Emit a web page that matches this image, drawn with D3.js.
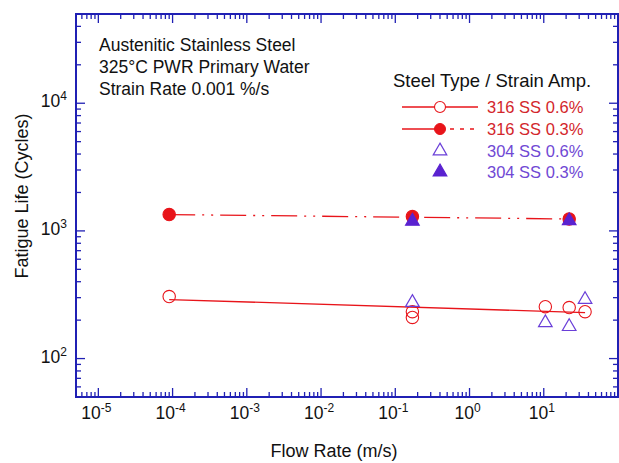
<!DOCTYPE html>
<html><head><meta charset="utf-8">
<script src="https://cdn.jsdelivr.net/npm/d3@7"></script>
<style>body{margin:0;background:#fff} svg{display:block} text{font-family:"Liberation Sans",Arial,Helvetica,sans-serif}</style>
</head><body><svg id="c" width="619" height="463"></svg>
<script>
// ---- data ----
const xTickExponents = [-5, -4, -3, -2, -1, 0, 1];
const yTickExponents = [2, 3, 4];
const annotationLines = ["Austenitic Stainless Steel", "325°C PWR Primary Water", "Strain Rate 0.001 %/s"];
const legendTitle = "Steel Type / Strain Amp.";
const seriesNames = ["316 SS 0.6%", "316 SS 0.3%", "304 SS 0.6%", "304 SS 0.3%"];
const xTitle = "Flow Rate (m/s)";
const yTitle = "Fatigue Life (Cycles)";

const ss316_06_flow = [9e-5, 0.17, 0.17, 10.5, 22, 36];
const ss316_06_life = [306, 233, 210, 255, 251, 233];
const ss316_03_flow = [9e-5, 0.17, 22];
const ss316_03_life = [1343, 1294, 1240];
const ss304_06_flow = [0.17, 10.5, 22, 36];
const ss304_06_life = [275, 191, 178, 290];
const ss304_03_flow = [0.17, 22];
const ss304_03_life = [1190, 1200];
const fit316_06_flow = [9e-5, 36];
const fit316_06_life = [290, 229];
const fit316_03_flow = [9e-5, 22];
const fit316_03_life = [1343, 1240];

// ---- layout ----
const svg = d3.select("#c");
const L = 76, R = 618, T = 14, B = 397;
const x = d3.scaleLog().domain([5e-6, 100]).range([L, R]);
const y = d3.scaleLog().domain([50, 5e4]).range([B, T]);
const axisColor = "#2020b4";
const red = "#e8141a";
const purple = "#6a3fd8";
const purpleFill = "#5a22d0";

// frame
svg.append("rect").attr("x", L).attr("y", T).attr("width", R - L).attr("height", B - T)
  .attr("fill", "none").attr("stroke", axisColor).attr("stroke-width", 2);

// ticks
function logTicks(scale) {
  const [a, b] = scale.domain();
  const out = [];
  for (let e = Math.floor(Math.log10(a)); e <= Math.ceil(Math.log10(b)); e++) {
    for (let m = 1; m <= 9; m++) {
      const v = m * Math.pow(10, e);
      if (v >= a * 0.999 && v <= b * 1.001) out.push({v, major: m === 1});
    }
  }
  return out;
}
const tg = svg.append("g").attr("stroke", axisColor).attr("stroke-width", 1.3);
logTicks(x).forEach(t => {
  const px = x(t.v), len = t.major ? 9 : 5;
  tg.append("line").attr("x1", px).attr("x2", px).attr("y1", B).attr("y2", B - len);
  tg.append("line").attr("x1", px).attr("x2", px).attr("y1", T).attr("y2", T + len);
});
logTicks(y).forEach(t => {
  const py = y(t.v), len = t.major ? 9 : 5;
  tg.append("line").attr("x1", L).attr("x2", L + len).attr("y1", py).attr("y2", py);
  tg.append("line").attr("x1", R).attr("x2", R - len).attr("y1", py).attr("y2", py);
});

// tick labels
xTickExponents.forEach(e => {
  const t = svg.append("text").attr("x", x(Math.pow(10, e)) - 2).attr("y", 419)
    .attr("text-anchor", "middle").attr("font-size", 17.5).attr("fill", "#111");
  t.append("tspan").text("10");
  t.append("tspan").attr("dy", -7).attr("font-size", 12).text(String(e));
});
yTickExponents.forEach(e => {
  const t = svg.append("text").attr("x", 67).attr("y", y(Math.pow(10, e)) + 4)
    .attr("text-anchor", "end").attr("font-size", 17.5).attr("fill", "#111");
  t.append("tspan").text("10");
  t.append("tspan").attr("dy", -7).attr("font-size", 12).text(e);
});

// axis titles
svg.append("text").attr("x", 334).attr("y", 457).attr("text-anchor", "middle")
  .attr("font-size", 18).attr("fill", "#111").text(xTitle);
svg.append("text").attr("transform", "translate(28,196) rotate(-90)").attr("text-anchor", "middle")
  .attr("font-size", 18).attr("fill", "#111").text(yTitle);

// annotation
annotationLines.forEach((s, i) => {
  svg.append("text").attr("x", 99).attr("y", 51 + i * 22).attr("font-size", 17.5)
    .attr("fill", "#111").text(s);
});

// fit lines
const line = d3.line().x(d => x(d[0])).y(d => y(d[1]));
svg.append("path").datum(d3.zip(fit316_06_flow, fit316_06_life)).attr("d", line)
  .attr("fill", "none").attr("stroke", red).attr("stroke-width", 1.3);
svg.append("path").datum(d3.zip(fit316_03_flow, fit316_03_life)).attr("d", line)
  .attr("fill", "none").attr("stroke", red).attr("stroke-width", 1.3)
  .attr("stroke-dasharray", "26,7,2,7,2,7");

// markers
const tri = d3.symbol().type(d3.symbolTriangle).size(80);
function circles(xs, ys, filled) {
  d3.zip(xs, ys).forEach(d => {
    svg.append("circle").attr("cx", x(d[0])).attr("cy", y(d[1])).attr("r", 6.2)
      .attr("fill", filled ? red : "none").attr("stroke", red).attr("stroke-width", 1.1);
  });
}
function triangles(xs, ys, filled) {
  d3.zip(xs, ys).forEach(d => {
    svg.append("path").attr("d", tri).attr("transform", `translate(${x(d[0])},${y(d[1])})`)
      .attr("fill", filled ? purpleFill : "none").attr("stroke", filled ? purpleFill : purple).attr("stroke-width", 1.2);
  });
}
circles(ss316_06_flow, ss316_06_life, false);
triangles(ss304_06_flow, ss304_06_life, false);
circles(ss316_03_flow, ss316_03_life, true);
triangles(ss304_03_flow, ss304_03_life, true);

// legend
svg.append("text").attr("x", 393).attr("y", 87).attr("font-size", 18.5).attr("fill", "#111").text(legendTitle);
const legRows = [107, 129, 151, 172];
const legColors = [red, red, purple, purple];
seriesNames.forEach((s, i) => {
  const ly = legRows[i];
  if (i === 0) {
    svg.append("line").attr("x1", 402).attr("x2", 478).attr("y1", ly).attr("y2", ly).attr("stroke", red).attr("stroke-width", 1.3);
    svg.append("circle").attr("cx", 440).attr("cy", ly).attr("r", 5.5).attr("fill", "#fff").attr("stroke", red).attr("stroke-width", 1.1);
  } else if (i === 1) {
    svg.append("line").attr("x1", 402).attr("x2", 440).attr("y1", ly).attr("y2", ly).attr("stroke", red).attr("stroke-width", 1.3);
    svg.append("line").attr("x1", 440).attr("x2", 478).attr("y1", ly).attr("y2", ly).attr("stroke", red).attr("stroke-width", 1.3).attr("stroke-dasharray", "4,6");
    svg.append("circle").attr("cx", 440).attr("cy", ly).attr("r", 5.5).attr("fill", red).attr("stroke", red);
  } else {
    svg.append("path").attr("d", tri).attr("transform", `translate(440,${ly})`)
      .attr("fill", i === 3 ? purpleFill : "none").attr("stroke", i === 3 ? purpleFill : purple).attr("stroke-width", 1.2);
  }
  svg.append("text").attr("x", 487).attr("y", ly + 6).attr("font-size", 16.5)
    .attr("fill", legColors[i] === red ? "#d3262b" : "#7048d4").text(s);
});
</script></body></html>
